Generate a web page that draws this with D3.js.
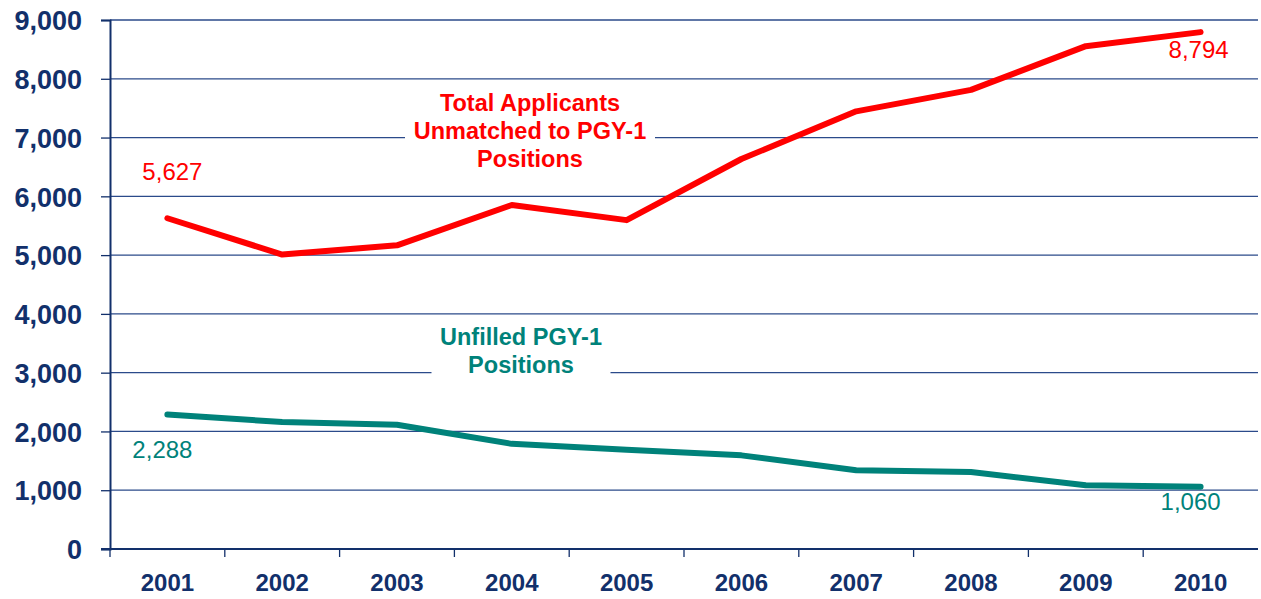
<!DOCTYPE html>
<html>
<head>
<meta charset="utf-8">
<script src="https://cdn.jsdelivr.net/npm/d3@7"></script>
<style>
  body { margin: 0; background: #fff; }
  svg text { font-family: Arial, "Liberation Sans", sans-serif; }
</style>
</head>
<body>
<div id="chart"></div>
<script>
/* data */
var years = ["2001", "2002", "2003", "2004", "2005", "2006", "2007", "2008", "2009", "2010"];
var unmatched = [5627, 5010, 5166, 5852, 5595, 6635, 7446, 7811, 8555, 8794];
var unfilled = [2288, 2160, 2115, 1789, 1690, 1593, 1339, 1310, 1085, 1060];
var yTicks = [0, 1000, 2000, 3000, 4000, 5000, 6000, 7000, 8000, 9000];

var width = 1261, height = 599;
var margin = {top: 20, right: 3, bottom: 50, left: 110};
var navy = "#12306b";
var red = "#ff0000";
var teal = "#00827a";

var svg = d3.select("#chart").append("svg")
  .attr("width", width)
  .attr("height", height);

var x = d3.scaleBand()
  .domain(years)
  .range([margin.left, width - margin.right]);

var y = d3.scaleLinear()
  .domain([0, 9000])
  .range([height - margin.bottom, margin.top]);

// gridlines
svg.append("g")
  .selectAll("line")
  .data(yTicks.filter(function(d) { return d > 0; }))
  .enter()
  .append("line")
  .attr("x1", margin.left)
  .attr("x2", width - margin.right)
  .attr("y1", function(d) { return y(d); })
  .attr("y2", function(d) { return y(d); })
  .style("stroke", "#2b4a8a")
  .style("stroke-width", 1.3);

// y axis
var yAxis = svg.append("g")
  .attr("transform", "translate(" + margin.left + ",0)")
  .call(d3.axisLeft(y).tickValues(yTicks).tickFormat(d3.format(",")).tickSize(9).tickPadding(19));
yAxis.select(".domain").style("stroke", navy).style("stroke-width", 2);
yAxis.selectAll(".tick line").style("stroke", navy).style("stroke-width", 1.3);
yAxis.selectAll("text")
  .style("fill", navy)
  .style("font-size", "27px")
  .style("font-weight", "bold")
  .attr("dy", "0.36em");

// x axis: ticks on band boundaries
var xAxisG = svg.append("g")
  .attr("transform", "translate(0," + y(0) + ")");
xAxisG.append("line")
  .attr("x1", margin.left - 9)
  .attr("x2", width - margin.right)
  .style("stroke", navy)
  .style("stroke-width", 2);
xAxisG.selectAll(".xtick")
  .data(years)
  .enter()
  .append("line")
  .attr("class", "xtick")
  .attr("x1", function(d) { return x(d); })
  .attr("x2", function(d) { return x(d); })
  .attr("y1", 0)
  .attr("y2", 8)
  .style("stroke", navy)
  .style("stroke-width", 1.3);
xAxisG.selectAll(".xlabel")
  .data(years)
  .enter()
  .append("text")
  .attr("class", "xlabel")
  .attr("x", function(d) { return x(d) + x.bandwidth() / 2; })
  .attr("y", 42)
  .attr("text-anchor", "middle")
  .style("fill", navy)
  .style("font-size", "24px")
  .style("font-weight", "bold")
  .text(function(d) { return d; });

// lines
var line = d3.line()
  .x(function(d, i) { return x(years[i]) + x.bandwidth() / 2; })
  .y(function(d) { return y(d); });

svg.append("path")
  .datum(unfilled)
  .attr("d", line)
  .style("fill", "none")
  .style("stroke", teal)
  .style("stroke-width", 6)
  .style("stroke-linejoin", "round")
  .style("stroke-linecap", "round");

svg.append("path")
  .datum(unmatched)
  .attr("d", line)
  .style("fill", "none")
  .style("stroke", red)
  .style("stroke-width", 6)
  .style("stroke-linejoin", "round")
  .style("stroke-linecap", "round");

// value labels at both ends
function cx(i) { return x(years[i]) + x.bandwidth() / 2; }
var last = years.length - 1;
var valueLabels = [
  {text: d3.format(",")(unmatched[0]), x: cx(0) + 5, y: y(unmatched[0]) - 38, color: red},
  {text: d3.format(",")(unmatched[last]), x: cx(last) - 2, y: y(unmatched[last]) + 26, color: red},
  {text: d3.format(",")(unfilled[0]), x: cx(0) - 5, y: y(unfilled[0]) + 43, color: teal},
  {text: d3.format(",")(unfilled[last]), x: cx(last) - 10, y: y(unfilled[last]) + 23, color: teal}
];
svg.selectAll(".vlabel")
  .data(valueLabels)
  .enter()
  .append("text")
  .attr("class", "vlabel")
  .attr("x", function(d) { return d.x; })
  .attr("y", function(d) { return d.y; })
  .attr("text-anchor", "middle")
  .style("fill", function(d) { return d.color; })
  .style("font-size", "24px")
  .text(function(d) { return d.text; });

// series name boxes
function nameBox(lines, cxPos, cyPos, w, h, color) {
  var g = svg.append("g");
  g.append("rect")
    .attr("x", cxPos - w / 2)
    .attr("y", cyPos - h / 2)
    .attr("width", w)
    .attr("height", h)
    .style("fill", "#fff");
  g.selectAll("text")
    .data(lines)
    .enter()
    .append("text")
    .attr("x", cxPos)
    .attr("y", function(d, i) { return cyPos + (i - (lines.length - 1) / 2) * 28 + 8; })
    .attr("text-anchor", "middle")
    .style("fill", color)
    .style("font-size", "23.5px")
    .style("font-weight", "bold")
    .text(function(d) { return d; });
}
nameBox(["Total Applicants", "Unmatched to PGY-1", "Positions"], 530, y(7000) - 7, 250, 84, red);
nameBox(["Unfilled PGY-1", "Positions"], 521, y(3000) - 22, 179, 56, teal);
</script>
</body>
</html>
